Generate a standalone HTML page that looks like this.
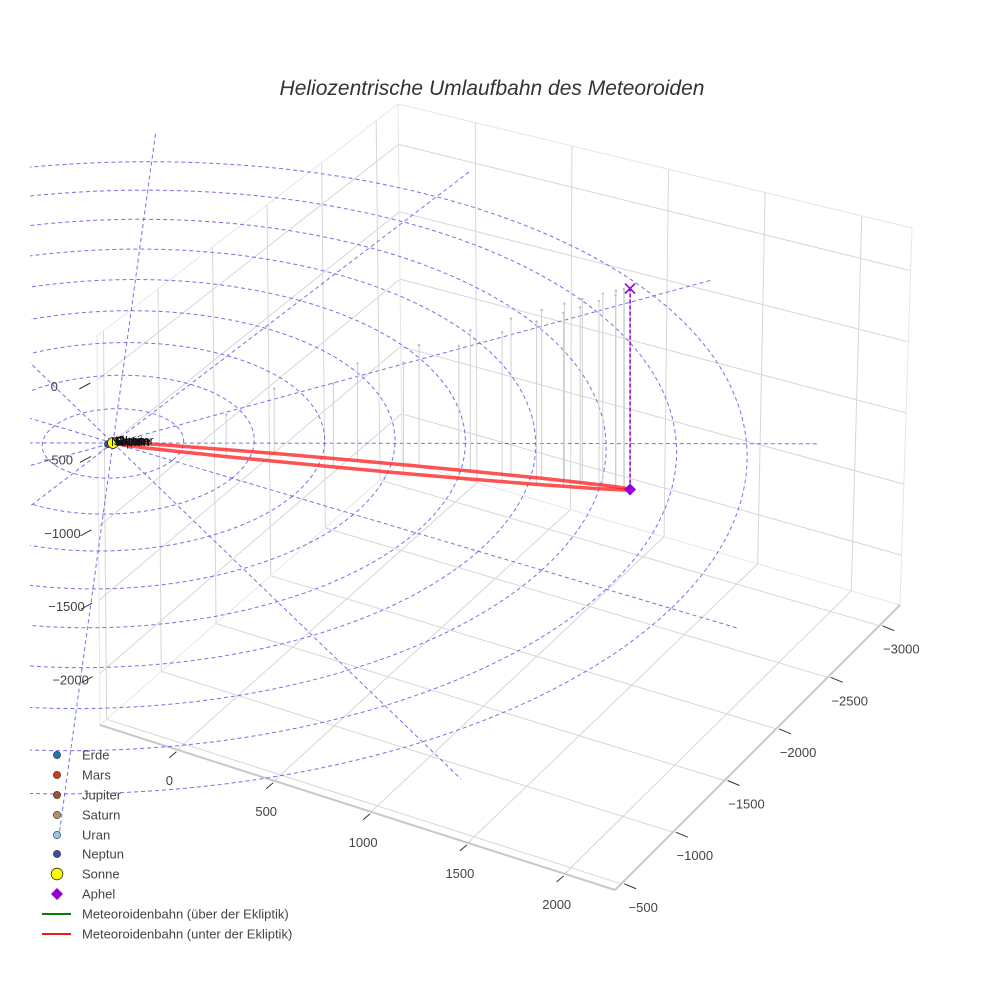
<!DOCTYPE html>
<html><head><meta charset="utf-8">
<style>
html,body{margin:0;padding:0;background:#fff;}
svg{display:block;font-family:"Liberation Sans",sans-serif;}
</style></head>
<body>
<svg id="chart" width="984" height="984" viewBox="0 0 984 984" xmlns="http://www.w3.org/2000/svg">
<rect width="984" height="984" fill="#fff"/>
<defs><clipPath id="sceneClip"><rect x="30" y="20" width="930" height="940"/></clipPath></defs>
<text x="492" y="95" text-anchor="middle" font-size="21" font-style="italic" fill="#333">Heliozentrische Umlaufbahn des Meteoroiden</text>
<g id="box"></g>
<g id="ecl" clip-path="url(#sceneClip)"></g>
<g id="drops"></g>
<g id="orbit"></g>
<g id="marks"></g>
<g id="ticks" font-size="13" fill="#444"></g>
<g id="legend" font-size="13" fill="#444">
 <g><circle cx="57" cy="755" r="3.6" fill="#1f78b4" stroke="#222" stroke-width="0.6"/><text x="82" y="759.5">Erde</text></g>
 <g><circle cx="57" cy="775" r="3.6" fill="#cc4010" stroke="#222" stroke-width="0.6"/><text x="82" y="779.5">Mars</text></g>
 <g><circle cx="57" cy="795" r="3.6" fill="#a0522d" stroke="#222" stroke-width="0.6"/><text x="82" y="799.5">Jupiter</text></g>
 <g><circle cx="57" cy="815" r="3.6" fill="#b8906a" stroke="#222" stroke-width="0.6"/><text x="82" y="819.5">Saturn</text></g>
 <g><circle cx="57" cy="835" r="3.6" fill="#8ecae6" stroke="#222" stroke-width="0.6"/><text x="82" y="839.5">Uran</text></g>
 <g><circle cx="57" cy="854" r="3.6" fill="#3a4fa8" stroke="#222" stroke-width="0.6"/><text x="82" y="858.5">Neptun</text></g>
 <g><circle cx="57" cy="874" r="5.8" fill="#ffff00" stroke="#222" stroke-width="0.8"/><text x="82" y="878.5">Sonne</text></g>
 <g><path d="M57 888 L63 894 L57 900 L51 894 Z" fill="#9400d3"/><text x="82" y="898.5">Aphel</text></g>
 <g><line x1="42" y1="914" x2="71" y2="914" stroke="#008000" stroke-width="2"/><text x="82" y="918.5">Meteoroidenbahn (über der Ekliptik)</text></g>
 <g><line x1="42" y1="934" x2="71" y2="934" stroke="#e32020" stroke-width="2"/><text x="82" y="938.5">Meteoroidenbahn (unter der Ekliptik)</text></g>
</g>
</svg>
<script>
// ---- data ----
const xTicks = [0, 500, 1000, 1500, 2000];
const yTicks = [-500, -1000, -1500, -2000, -2500, -3000];
const zTicks = [0, -500, -1000, -1500, -2000];
const xRange = [-400, 2260];
const yRange = [-3200, -440];
const zRange = [-2350, 300];
const ringRadii = [325, 650, 975, 1300, 1625, 1950, 2275, 2600, 2925];
const spokeAnglesDeg = [0, 30, 60, 90, 120, 150];
const spokeLength = 3250;
const orbitAX = [0, 40, 88, 163, 305, 579, 759, 901, 1012, 1101, 1169, 1211, 1258, 1298, 1318, 1326];
const orbitAY = [0, -44, -117, -240, -489, -994, -1336, -1614, -1836, -2015, -2158, -2249, -2353, -2446, -2499, -2543];
const orbitAZ = [0, -30, -75, -150, -300, -600, -803, -966, -1095, -1200, -1282, -1335, -1395, -1447, -1478, -1500];
const orbitBX = [1326, 1302, 1277, 1238, 1178, 1127, 1063, 979, 869, 733, 574, 365, 102, 45, 12, 0];
const orbitBY = [-2543, -2523, -2488, -2427, -2329, -2242, -2130, -1979, -1778, -1525, -1221, -812, -269, -138, -58, 0];
const orbitBZ = [-1500, -1485, -1462, -1425, -1365, -1312, -1245, -1155, -1035, -885, -705, -465, -150, -75, -30, 0];
const aphel = [1326, -2543, -1500];
const planetNames = ["Erde", "Mars", "Jupiter", "Saturn", "Uran", "Neptun"];
const planetX = [2, -3, 5, -8, 10, -14];
const planetY = [3, 4, -6, 9, -12, 20];
const planetColors = ["#1f78b4", "#cc4010", "#a0522d", "#b8906a", "#8ecae6", "#3a4fa8"];

// ---- projection (ecliptic-plane homography + depth-scaled vertical) ----
const calSrc = [[0,0],[3250,0],[0,-3250],[2815,1625]];
const calDst = [[113,443],[737,628],[469,172],[461,779]];
function solve(A,b){const n=b.length;for(let i=0;i<n;i++){let p=i;for(let r=i+1;r<n;r++)if(Math.abs(A[r][i])>Math.abs(A[p][i]))p=r;[A[i],A[p]]=[A[p],A[i]];[b[i],b[p]]=[b[p],b[i]];for(let r=i+1;r<n;r++){const f=A[r][i]/A[i][i];for(let c=i;c<n;c++)A[r][c]-=f*A[i][c];b[r]-=f*b[i];}}const x=new Array(n).fill(0);for(let i=n-1;i>=0;i--){let s=b[i];for(let c=i+1;c<n;c++)s-=A[i][c]*x[c];x[i]=s/A[i][i];}return x;}
function homog(src,dst){const A=[],b=[];for(let i=0;i<4;i++){const [x,y]=src[i],[u,v]=dst[i];A.push([x,y,1,0,0,0,-u*x,-u*y]);b.push(u);A.push([0,0,0,x,y,1,-v*x,-v*y]);b.push(v);}return solve(A,b);}
const H = homog(calSrc, calDst);
const KZ = 0.142;
function P(x,y,z){const W=H[6]*x+H[7]*y+1;return [(H[0]*x+H[1]*y+H[2])/W,(H[3]*x+H[4]*y+H[5])/W-z*KZ/W];}

// box corners in screen space (layout), trilinear mapping for the axis box
const BC = {"000":[402,461],"001":[398,104],"100":[900,605],"101":[912,228],"010":[100,725],"011":[97,336],"110":[615,890],"111":[627,505]};
function T(x,y,z){const u=(x-xRange[0])/(xRange[1]-xRange[0]),v=(y-yRange[0])/(yRange[1]-yRange[0]),w=(z-zRange[0])/(zRange[1]-zRange[0]);
 let sx=0,sy=0;for(const k in BC){const a=+k[0],b=+k[1],c=+k[2];const f=(a?u:1-u)*(b?v:1-v)*(c?w:1-w);sx+=f*BC[k][0];sy+=f*BC[k][1];}return [sx,sy];}

const NS='http://www.w3.org/2000/svg';
function mk(parent,tag,attrs,name,inter){const e=document.createElementNS(NS,tag);for(const k in attrs)e.setAttribute(k,attrs[k]);


parent.appendChild(e);return e;}
function seg(parent,a,b,style,name){return mk(parent,'line',Object.assign({x1:a[0].toFixed(1),y1:a[1].toFixed(1),x2:b[0].toFixed(1),y2:b[1].toFixed(1)},style),name,false);}

// ---- box ----
const box=document.getElementById('box');
const [x0,x1]=xRange,[y0,y1]=yRange,[z0,z1]=zRange;
const gs={stroke:'#d6d6d6','stroke-width':1};
const es={stroke:'#e6e6e6','stroke-width':1};
xTicks.forEach(t=>{seg(box,T(t,y0,z0),T(t,y1,z0),gs,'floor-grid-x');seg(box,T(t,y0,z0),T(t,y0,z1),gs,'backwall-grid-x');});
yTicks.forEach(t=>{seg(box,T(x0,t,z0),T(x1,t,z0),gs,'floor-grid-y');seg(box,T(x0,t,z0),T(x0,t,z1),gs,'sidewall-grid-y');});
zTicks.forEach(t=>{seg(box,T(x0,y0,t),T(x1,y0,t),gs,'backwall-grid-z');seg(box,T(x0,y0,t),T(x0,y1,t),gs,'sidewall-grid-z');});
seg(box,T(x0,y0,z0),T(x0,y0,z1),es,'box-edge');
seg(box,T(x1,y0,z0),T(x1,y0,z1),es,'box-edge');
seg(box,T(x0,y1,z0),T(x0,y1,z1),es,'box-edge');
seg(box,T(x0,y0,z1),T(x1,y0,z1),es,'box-edge');
seg(box,T(x0,y0,z1),T(x0,y1,z1),es,'box-edge');
seg(box,T(x0,y0,z0),T(x1,y0,z0),es,'box-edge');
seg(box,T(x0,y0,z0),T(x0,y1,z0),es,'box-edge');
seg(box,T(x0,y1,z0),T(x1,y1,z0),{stroke:'#c8c8c8','stroke-width':2},'x-axis-line');
seg(box,T(x1,y0,z0),T(x1,y1,z0),{stroke:'#c8c8c8','stroke-width':2},'y-axis-line');

// ---- ticks ----
const tk=document.getElementById('ticks');
const tms={stroke:'#333','stroke-width':1};
function fmt(v){return v<0?'\u2212'+Math.abs(v):String(v);}
xTicks.forEach(t=>{const p=T(t,y1,z0);seg(tk,[p[0]-1,p[1]+2],[p[0]-8,p[1]+8],tms,'x-tick-mark');
 const e=mk(tk,'text',{x:(p[0]-8).toFixed(1),y:(p[1]+35).toFixed(1),'text-anchor':'middle'},'x-tick-label',false);e.textContent=fmt(t);});
yTicks.forEach(t=>{const p=T(x1,t,z0);seg(tk,[p[0]+3,p[1]],[p[0]+15,p[1]+5],tms,'y-tick-mark');
 const e=mk(tk,'text',{x:(p[0]+22).toFixed(1),y:(p[1]+28).toFixed(1),'text-anchor':'middle'},'y-tick-label',false);e.textContent=fmt(t);});
zTicks.forEach((t,i)=>{const p=T(x0,y1,t);seg(tk,[p[0]-7,p[1]+3],[p[0]-18,p[1]+9],tms,'z-tick-mark');
 const e=mk(tk,'text',{x:(p[0]-43+3.5*i).toFixed(1),y:(p[1]+11).toFixed(1),'text-anchor':'middle'},'z-tick-label',false);e.textContent=fmt(t);});

// ---- ecliptic rings & spokes ----
const ecl=document.getElementById('ecl');
const bs={stroke:'#5a5ae6','stroke-width':1,'stroke-dasharray':'4,3',fill:'none','stroke-opacity':0.85};
ringRadii.forEach(r=>{const pts=[];for(let k=0;k<=240;k++){const a=k/240*2*Math.PI;const p=P(r*Math.cos(a),r*Math.sin(a),0);pts.push(p[0].toFixed(1)+','+p[1].toFixed(1));}
 mk(ecl,'polyline',Object.assign({points:pts.join(' ')},bs),'planet-ring',false);});
spokeAnglesDeg.forEach(d=>{const a=d*Math.PI/180;const c=Math.cos(a)*spokeLength,s=Math.sin(a)*spokeLength;
 seg(ecl,P(-c,-s,0),P(c,s,0),bs,'ecliptic-spoke');});

// ---- drop lines ----
const dr=document.getElementById('drops');
function drops(X,Y,Z){for(let i=0;i<X.length;i++){if(Z[i]>-250)continue;const a=P(X[i],Y[i],Z[i]),b=P(X[i],Y[i],0);
 seg(dr,a,b,{stroke:'#cfcfcf','stroke-width':1},'drop-line');
 mk(dr,'circle',{cx:b[0].toFixed(1),cy:b[1].toFixed(1),r:1.2,fill:'#bbb'},'drop-line-top',false);}}
drops(orbitAX,orbitAY,orbitAZ);drops(orbitBX,orbitBY,orbitBZ);

// ---- orbit ----
const ob=document.getElementById('orbit');
function path(X,Y,Z){return X.map((x,i)=>{const p=P(x,Y[i],Z[i]);return p[0].toFixed(1)+','+p[1].toFixed(1);}).join(' ');}
mk(ob,'polyline',{points:path(orbitAX,orbitAY,orbitAZ),fill:'none',stroke:'#ff1a1a','stroke-width':3.5,'stroke-opacity':0.75,'stroke-linejoin':'round'},'orbit-below-outbound',true);
mk(ob,'polyline',{points:path(orbitBX,orbitBY,orbitBZ),fill:'none',stroke:'#ff1a1a','stroke-width':3.5,'stroke-opacity':0.75,'stroke-linejoin':'round'},'orbit-below-return',true);

// ---- markers ----
const mks=document.getElementById('marks');
const ap=P(aphel[0],aphel[1],aphel[2]),apE=P(aphel[0],aphel[1],0);
seg(mks,ap,apE,{stroke:'#9400d3','stroke-width':1.5,'stroke-dasharray':'4,2'},'aphel-projection-line');
mk(mks,'path',{d:`M${apE[0]-5},${apE[1]-5} L${apE[0]+5},${apE[1]+5} M${apE[0]+5},${apE[1]-5} L${apE[0]-5},${apE[1]+5}`,stroke:'#9400d3','stroke-width':1.6,fill:'none'},'aphel-ecliptic-marker',true);
mk(mks,'path',{d:`M${ap[0]},${ap[1]-6} L${ap[0]+6},${ap[1]} L${ap[0]},${ap[1]+6} L${ap[0]-6},${ap[1]} Z`,fill:'#9400d3'},'aphel-marker',true);
planetNames.forEach((n,i)=>{const p=P(planetX[i],planetY[i],0);
 mk(mks,'circle',{cx:p[0].toFixed(1),cy:p[1].toFixed(1),r:3.5,fill:planetColors[i],stroke:'#222','stroke-width':0.6},'planet-'+n.toLowerCase(),true);});
const sp=P(0,0,0);
mk(mks,'circle',{cx:sp[0],cy:sp[1],r:5.5,fill:'#ffff00',stroke:'#222','stroke-width':0.8},'sun-marker',true);
planetNames.concat(['Sonne']).forEach((n,i)=>{const p=P(i<6?planetX[i]:0,i<6?planetY[i]:0,0);
 const e=mk(mks,'text',{x:(p[0]+3).toFixed(1),y:(p[1]+2).toFixed(1),'font-size':12,fill:'#111'},'planet-label',false);e.textContent=n;});
</script>
</body></html>
